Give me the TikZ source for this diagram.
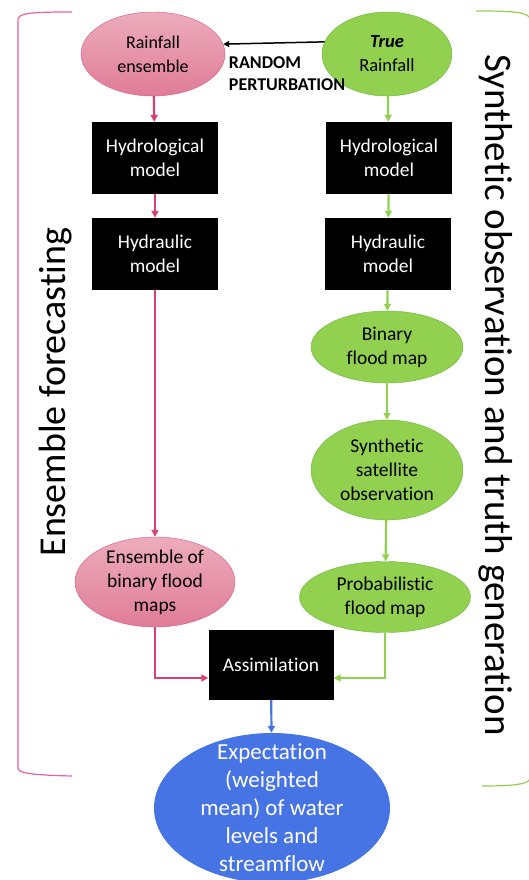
\documentclass[tikz,border=0pt]{standalone}
\usepackage{fontspec}
\setmainfont{Carlito}[Ligatures=NoCommon]
\usepackage{xcolor}
\usetikzlibrary{shapes.geometric}
\usetikzlibrary{arrows.meta}
\definecolor{ensred}{RGB}{214,64,116}
\definecolor{enspinkA}{RGB}{236,172,188}
\definecolor{enspinkB}{RGB}{224,124,152}
\definecolor{truegreen}{RGB}{146,208,80}
\definecolor{truegreenD}{RGB}{104,182,62}
\definecolor{expblue}{RGB}{70,116,228}
\definecolor{bracketpink}{RGB}{234,96,166}

\begin{document}
\begin{tikzpicture}[
			     x=1pt, y=-1pt,
			     font=\fontsize{19.5}{24}\selectfont,
			     >={Triangle[length=7pt,width=7pt]},
			     descr/.style={align=center,inner sep=0pt},
			     pinkell/.style={ellipse,draw=ensred!60!enspinkB,top color=enspinkA,bottom color=enspinkB,inner sep=0pt},
			     greenell/.style={ellipse,draw=truegreenD,fill=truegreen,inner sep=0pt},
			     blackbox/.style={rectangle,fill=black,text=white,align=center,minimum width=126pt,minimum height=72pt},
			     pink line/.style={->,draw=ensred,line width=2.2pt},
			     green line/.style={->,draw=truegreen,line width=2.2pt},
			     blue line/.style={->,draw=expblue,line width=2.2pt}
			     ]
\useasboundingbox (0,0) rectangle (529,880);
%
\node[pinkell,minimum width=144pt,minimum height=84pt,label={[descr,font=\fontsize{18}{24}\selectfont]center:Rainfall\\ensemble}] (rainens) at (153,54) {};
\node[greenell,minimum width=130pt,minimum height=84pt,label={[descr,font=\fontsize{18.5}{24}\selectfont]center:\textbf{\textit{True}}\\Rainfall}] (truerain) at (387,54) {};
\node[blackbox] (hydroL) at (155,158) {Hydrological\\model};
\node[blackbox] (hydroR) at (389,158) {Hydrological\\model};
\node[blackbox] (hydraL) at (155,254) {Hydraulic\\model};
\node[blackbox] (hydraR) at (388,254) {Hydraulic\\model};
\node[greenell,minimum width=152pt,minimum height=72pt,label={[descr]center:Binary\\flood map}] (binmap) at (387,347) {};
\node[greenell,minimum width=152pt,minimum height=100pt,label={[descr]center:Synthetic\\satellite\\observation}] (synobs) at (387,470) {};
\node[greenell,minimum width=171pt,minimum height=71pt,label={[descr]center:Probabilistic\\flood map}] (probmap) at (385,597) {};
\node[pinkell,minimum width=160pt,minimum height=90pt,label={[descr]center:Ensemble of\\binary flood\\maps}] (ensmaps) at (155,582) {};
\node[blackbox,minimum width=125pt,minimum height=70pt] (assim) at (271,665) {Assimilation};
\node[ellipse,fill=expblue,minimum width=236pt,minimum height=150pt,inner sep=0pt,
      label={[descr,text=white,font=\fontsize{23}{28}\selectfont]center:Expectation\\(weighted\\mean) of water\\levels and\\streamflow}] (expect) at (272,808) {};
%
\path (truerain.169) edge[->,line width=1.5pt,>={Triangle[length=6pt,width=6pt]}]
      node[pos=1,anchor=north west,align=left,inner sep=0pt,xshift=5pt,yshift=-12pt,font=\fontsize{18}{22}\selectfont\bfseries] {RANDOM\\PERTURBATION} (rainens.8);
\path (rainens) edge[pink line] (hydroL);
\path (hydroL) edge[pink line] (hydraL);
\path (hydraL) edge[pink line] (ensmaps);
\path (truerain) edge[green line] (hydroR);
\path (hydroR) edge[green line] (hydraR);
\path (hydraR) edge[green line] (binmap);
\path (binmap) edge[green line] (synobs);
\path (synobs) edge[green line] (probmap);
\draw[pink line] (ensmaps) |- ([yshift=-13pt]assim.west);
\draw[green line] (probmap) |- ([yshift=-13pt]assim.east);
\path (assim) edge[blue line] (expect);
%
\draw[bracketpink,line width=1.2pt] (72,12) .. controls (30,12) and (18,13) .. (18,20) -- (18,768) .. controls (18,773) and (30,775) .. (72,776);
\draw[truegreen,line width=1.2pt] (476,11) .. controls (515,11) and (530,12) .. (530,20) -- (530,778) .. controls (530,784) and (515,786) .. (482,786);
\node[rotate=90,anchor=base,font=\fontsize{38}{46}\selectfont] (ensfc) at (65,392) {Ensemble forecasting};
\node[rotate=-90,anchor=base,font=\fontsize{39}{46}\selectfont] (synth) at (485,395) {Synthetic observation and truth generation};
\end{tikzpicture}
\end{document}
